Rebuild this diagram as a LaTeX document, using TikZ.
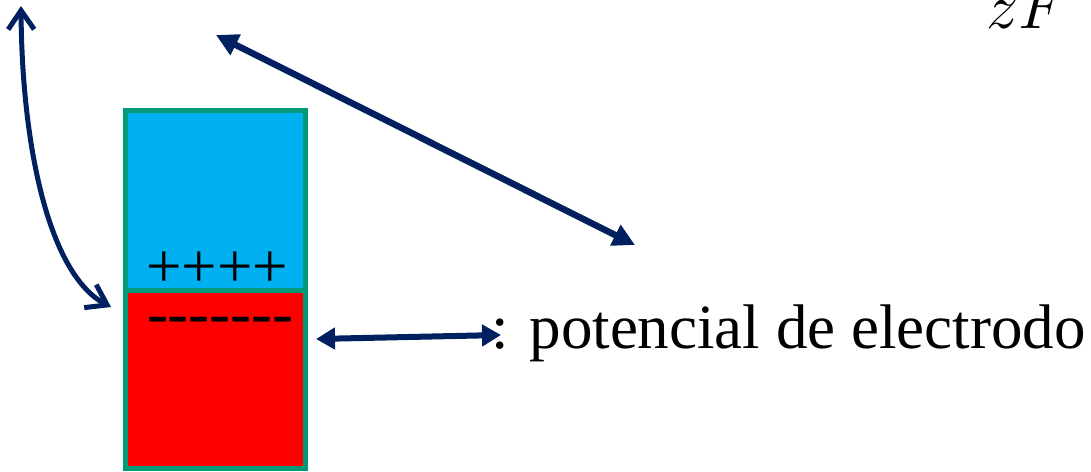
\documentclass[tikz,border=0pt]{standalone}
\usepackage{fix-cm}
\usepackage{fontspec}
\setmainfont{Liberation Serif}
\usetikzlibrary{arrows.meta}
\definecolor{navy}{HTML}{002060}
\definecolor{skyb}{HTML}{00B0F0}
\definecolor{redf}{HTML}{FF0000}
\definecolor{edge}{HTML}{009A78}
\tikzset{
  cell/.style={draw=edge, line width=5pt, inner sep=0pt, outer sep=0pt, minimum width=180pt, minimum height=180pt, anchor=north west},
  bigtxt/.style={font=\fontsize{63}{70}\selectfont, inner sep=0pt, outer sep=0pt},
  curvarrow/.style={draw=navy, line width=5pt, {Straight Barb[length=19pt,width=26pt,line width=5pt]}-{Straight Barb[length=19pt,width=26pt,line width=5pt]}},
  diagarrow/.style={draw=navy, line width=6.5pt, {Triangle[length=22pt,width=22pt]}-{Triangle[length=22pt,width=22pt]}},
  horarrow/.style={draw=navy, line width=6pt, {Triangle[length=19pt,width=21pt]}-{Triangle[length=19pt,width=21pt]}}
}
\begin{document}
\begin{tikzpicture}[x=1pt,y=-1pt]
\clip (0,0) rectangle (1091,471);
\fill[white] (0,0) rectangle (1091,471);
\node[cell, fill=skyb, minimum height=180pt] (blue) at (125,110) {};
\node[cell, fill=redf, minimum height=178pt] (red) at (125,290) {};
\node[bigtxt, anchor=base west] (plus) at (146,287) {++++};
\node[bigtxt, anchor=base west] (minus) at (147,334) {-{}-{}-{}-{}-{}-{}-};
\node[bigtxt, anchor=base west] (lbl) at (491,348) {: potencial de electrodo};
\node[anchor=base west, inner sep=0pt, font=\fontsize{64}{70}\selectfont] (zf) at (986,28) {$zF$};
\coordinate (c1) at (21,6);
\coordinate (c2) at (111,307);
\draw[curvarrow] (c1) .. controls (22,150) and (50,275) .. (c2);
\coordinate (d1) at (216,35);
\coordinate (d2) at (635,245);
\draw[diagarrow] (d1) -- (d2);
\coordinate (h1) at (316,339);
\coordinate (h2) at (501,335);
\draw[horarrow] (h1) -- (h2);
\end{tikzpicture}
\end{document}
